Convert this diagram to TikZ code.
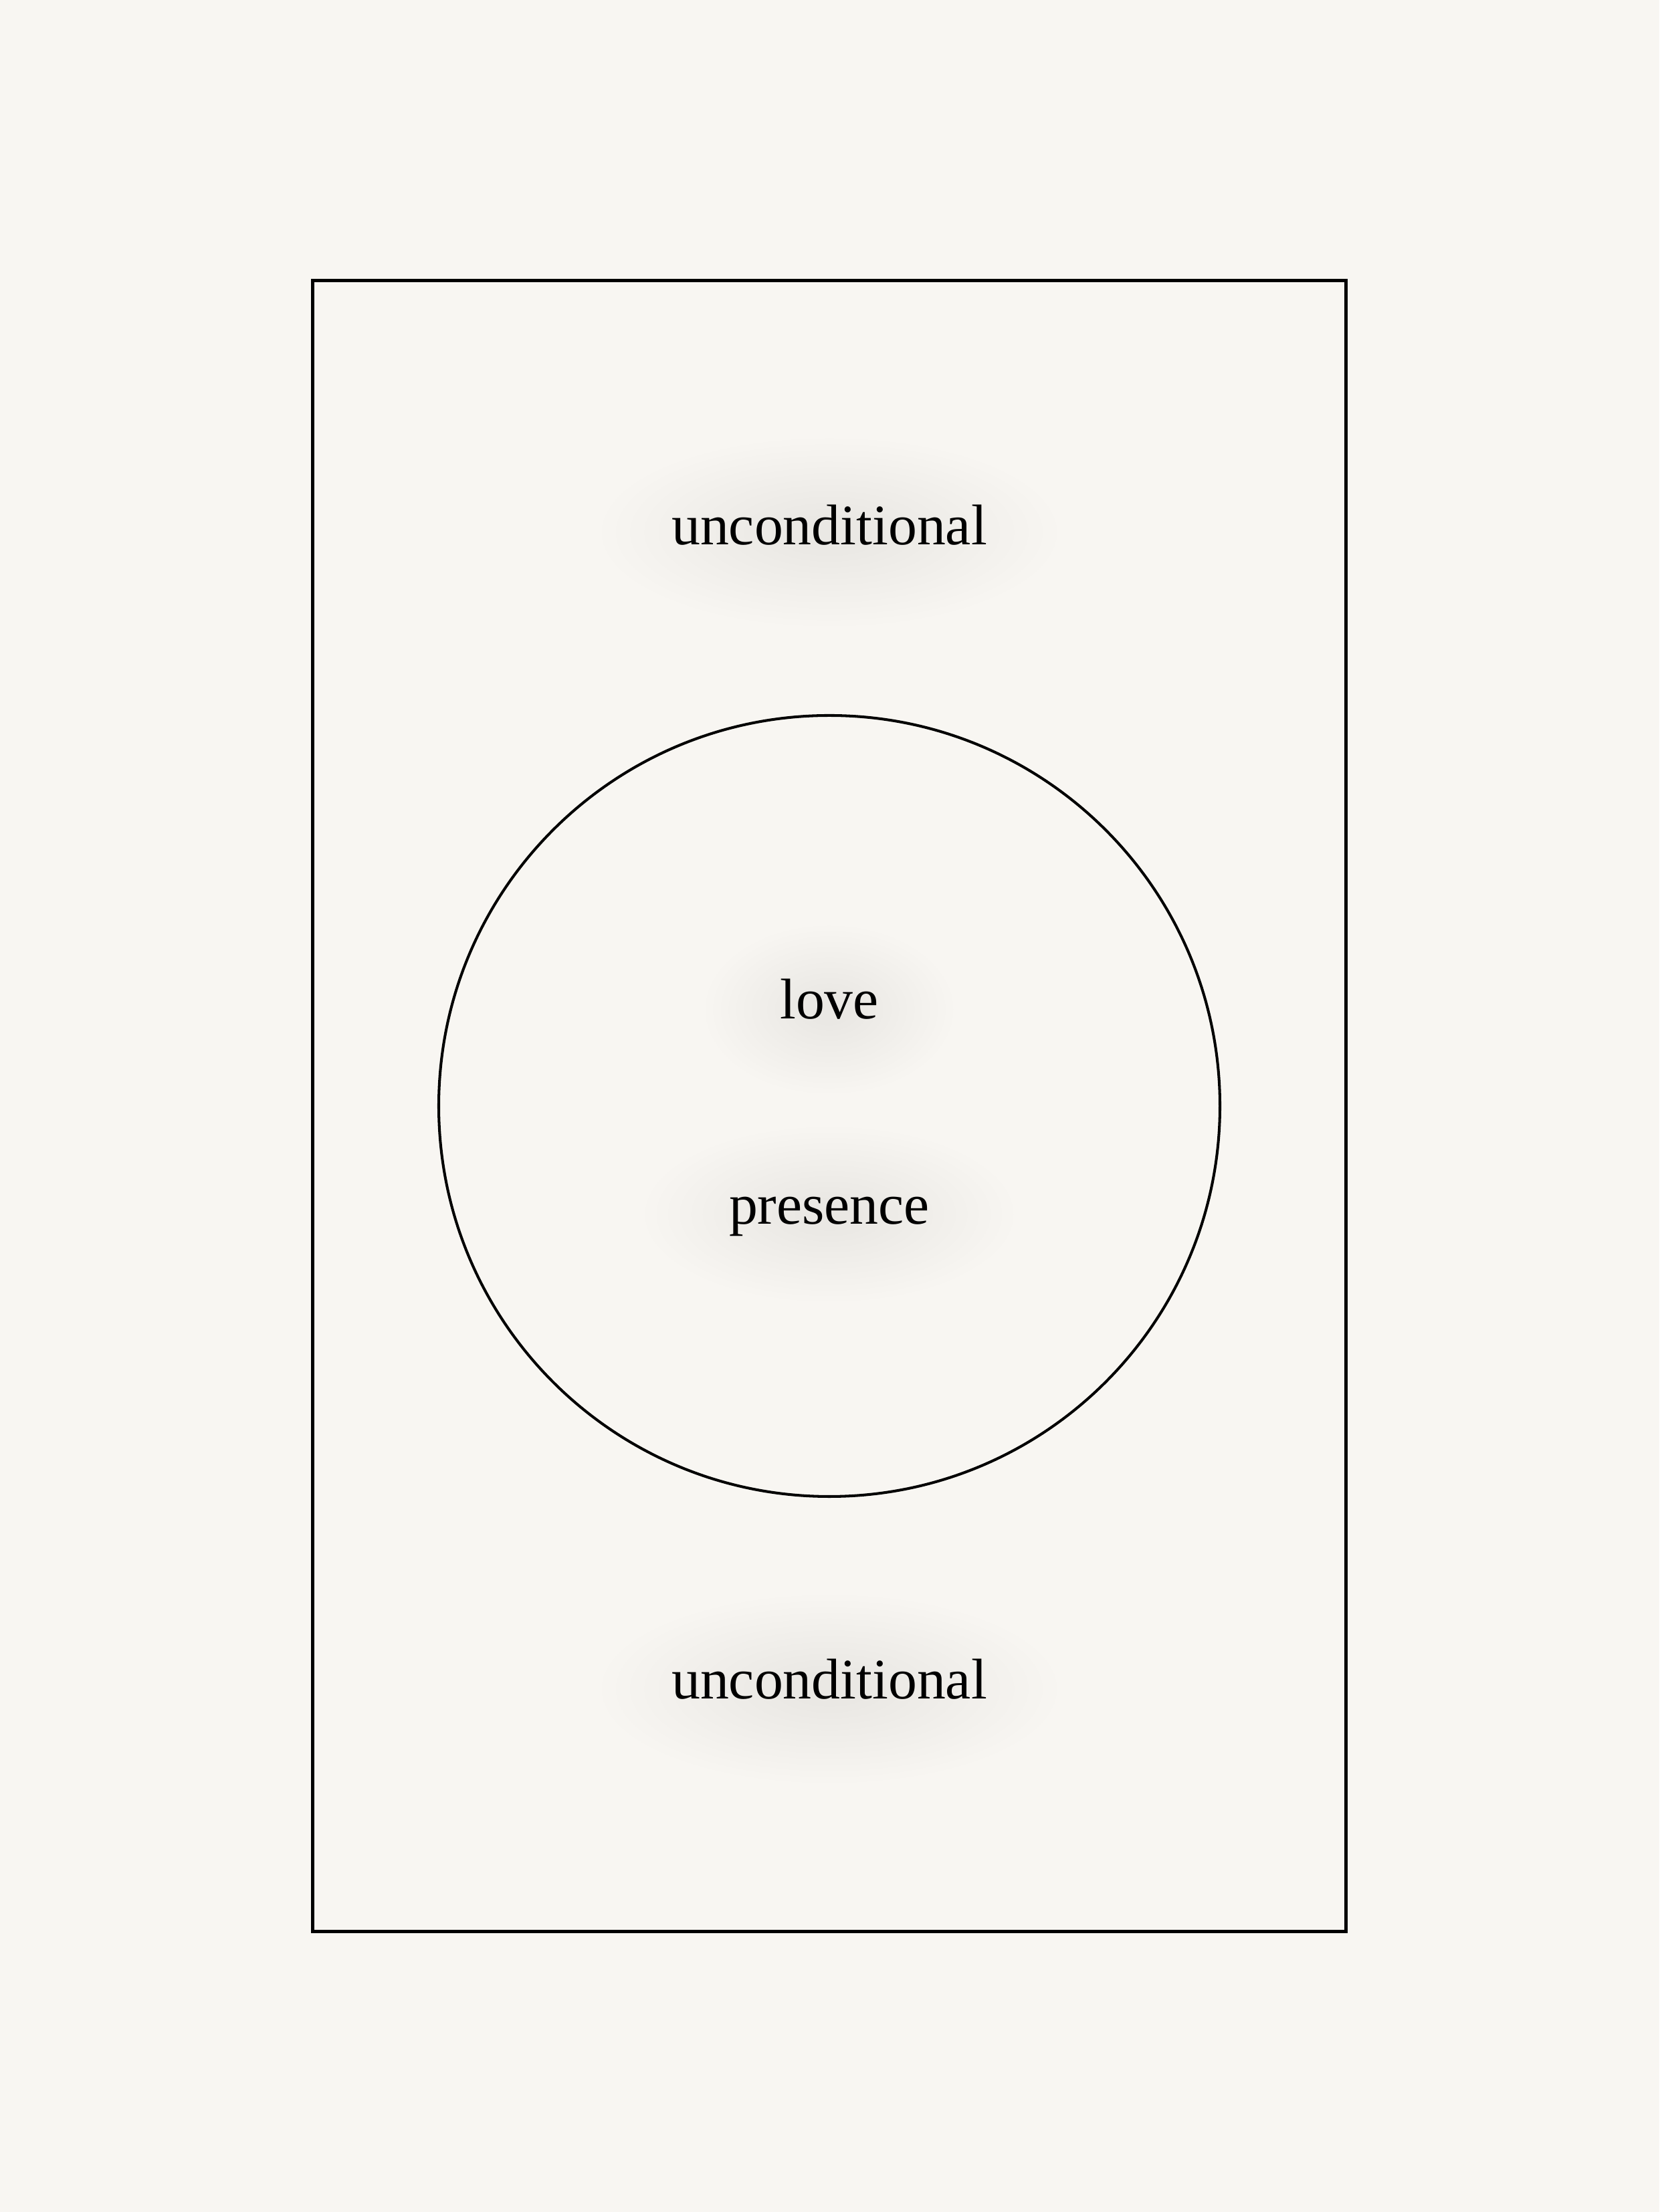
\documentclass[tikz,border=0pt]{standalone}
\usepackage{fontspec}
\setmainfont{Liberation Serif}
\usepackage{xcolor}
\usepackage{tikz}
\usetikzlibrary{shapes,positioning}
\definecolor{paper}{RGB}{248,246,242}
\definecolor{haze}{RGB}{229,227,221}

\begin{document}
\begin{tikzpicture}[
    word/.style={anchor=base, inner sep=0pt, font=\fontsize{24.4}{28}\selectfont},
    glow/.style={fill=haze, fill opacity=0.045}
  ]
    \fill[paper] (0,0) rectangle (24.81,33.08);
    \useasboundingbox (0,0) rectangle (24.81,33.08);
    % soft haze behind the words, built up from stacked ellipses
    \foreach \k in {0,...,13} {
        \fill[glow] (12.40,25.12) ellipse ({3.4*(1-\k/16)} and {1.4*(1-\k/16)});
        \fill[glow] (12.40,17.98) ellipse ({1.85*(1-\k/16)} and {1.25*(1-\k/16)});
        \fill[glow] (12.40,14.92) ellipse ({2.75*(1-\k/16)} and {1.3*(1-\k/16)});
        \fill[glow] (12.40,7.82) ellipse ({3.4*(1-\k/16)} and {1.4*(1-\k/16)});
    }
    \node[draw, line width=1.4pt, minimum width=15.45cm, minimum height=24.69cm, inner sep=0pt] (frame) at (12.40,16.54) {};
    \node[draw, circle, line width=1.15pt, minimum size=11.68cm, inner sep=0pt] (ring) at (12.40,16.54) {};
    \node[word] (topword) at (12.40,24.93) {unconditional};
    \node[word] (love) at (12.40,17.84) {love};
    \node[word] (presence) at (12.40,14.77) {presence};
    \node[word] (bottomword) at (12.40,7.67) {unconditional};
\end{tikzpicture}
\end{document}
